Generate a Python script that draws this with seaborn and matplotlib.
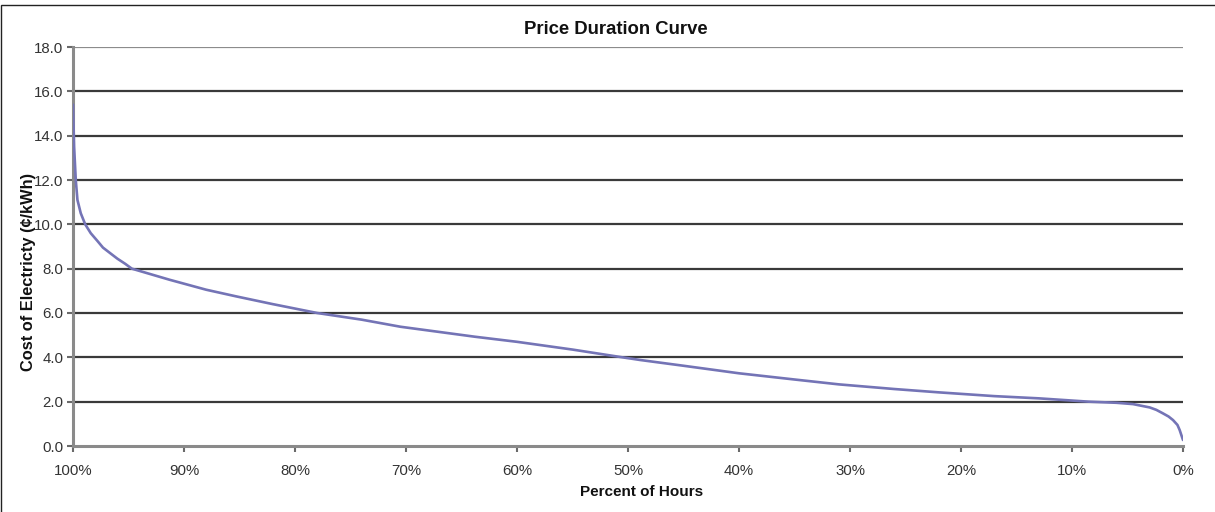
import matplotlib
matplotlib.use("Agg")
import matplotlib.pyplot as plt
import matplotlib.patches as mpatches
import pandas as pd
import seaborn as sns


# percent of hours (duration) and the matching price
pct_hours = [100, 99.9, 99.75, 99.6, 99.3, 98.9, 98.4, 97.8, 97.3, 96.6,
             96.0, 95.3, 94.7, 93.0, 91.3, 88.0, 85.3, 82.0, 78.0, 74.0,
             70.5, 63.8, 60.0, 55.0, 50.5, 48.9, 45.0, 40.0, 35.0, 31.0,
             26.0, 22.0, 17.0, 13.0, 8.5, 6.0, 4.5, 3.0, 2.4, 1.8,
             1.3, 0.9, 0.5, 0.3, 0.0]
price = [15.4, 13.5, 12.0, 11.1, 10.5, 10.0, 9.6, 9.25, 8.95, 8.68,
         8.45, 8.22, 8.0, 7.75, 7.5, 7.05, 6.75, 6.4, 6.0, 5.7,
         5.38, 4.93, 4.7, 4.35, 4.0, 3.88, 3.62, 3.28, 3.0, 2.78,
         2.57, 2.42, 2.25, 2.15, 2.0, 1.95, 1.89, 1.74, 1.63, 1.47,
         1.33, 1.17, 0.95, 0.72, 0.27]

x_ticks = [100, 90, 80, 70, 60, 50, 40, 30, 20, 10, 0]
x_tick_labels = ["100%", "90%", "80%", "70%", "60%", "50%", "40%", "30%", "20%", "10%", "0%"]
y_ticks = [0, 2, 4, 6, 8, 10, 12, 14, 16, 18]
y_tick_labels = ["0.0", "2.0", "4.0", "6.0", "8.0", "10.0", "12.0", "14.0", "16.0", "18.0"]


def make_plot():
    sns.set_style("white")
    plt.rcParams["font.family"] = ["Liberation Sans", "DejaVu Sans"]

    df = pd.DataFrame({"Percent of Hours": pct_hours, "Cost": price})

    fig = plt.figure(figsize=(12.15, 5.12), dpi=100)
    ax = fig.add_axes([73 / 1215, 1 - 446 / 512, 1110 / 1215, 399 / 512])

    # outer chart frame (only top/left visible in the reference)
    fig.patches.append(mpatches.Rectangle((1 / 1215, -0.1), 1.2, 1 - 5 / 512 + 0.1,
                                          transform=fig.transFigure, fill=False,
                                          edgecolor="#222222", linewidth=1.0))

    for yv in y_ticks[1:]:
        ax.axhline(yv, color="#3a3a3a" if yv < 18 else "#8c8c8c",
                   linewidth=1.6, zorder=1)

    sns.lineplot(data=df, x="Percent of Hours", y="Cost", ax=ax,
                 color="#7474b6", linewidth=1.9, zorder=3)

    ax.set_xlim(100, 0)
    ax.set_ylim(0, 18)
    ax.set_xticks(x_ticks)
    ax.set_xticklabels(x_tick_labels)
    ax.set_yticks(y_ticks)
    ax.set_yticklabels(y_tick_labels)

    for side in ["top", "right"]:
        ax.spines[side].set_visible(False)
    for side in ["left", "bottom"]:
        ax.spines[side].set_color("#8a8a8a")
        ax.spines[side].set_linewidth(2.2)

    ax.tick_params(axis="both", which="major", length=4, width=1.5,
                   color="#6a6a6a", labelsize=10.8, labelcolor="#333333",
                   direction="out", bottom=True, left=True)
    ax.tick_params(axis="x", pad=9)
    ax.tick_params(axis="y", pad=3)

    ax.set_title("Price Duration Curve", fontsize=13.3, fontweight="bold",
                 color="#111111", pad=9)
    ax.title.set_x(0.489)
    ax.set_xlabel("Percent of Hours", fontsize=11, fontweight="bold",
                  color="#111111", va="center")
    ax.xaxis.set_label_coords(0.512, -0.115)
    ax.set_ylabel("Cost of Electricty (\u00a2/kWh)", fontsize=11.8,
                  fontweight="bold", color="#111111", va="center")
    ax.yaxis.set_label_coords(-0.0405, 0.436)

    fig.savefig("out.png", dpi=100, facecolor="white")
    plt.close(fig)


if __name__ == "__main__":
    make_plot()
